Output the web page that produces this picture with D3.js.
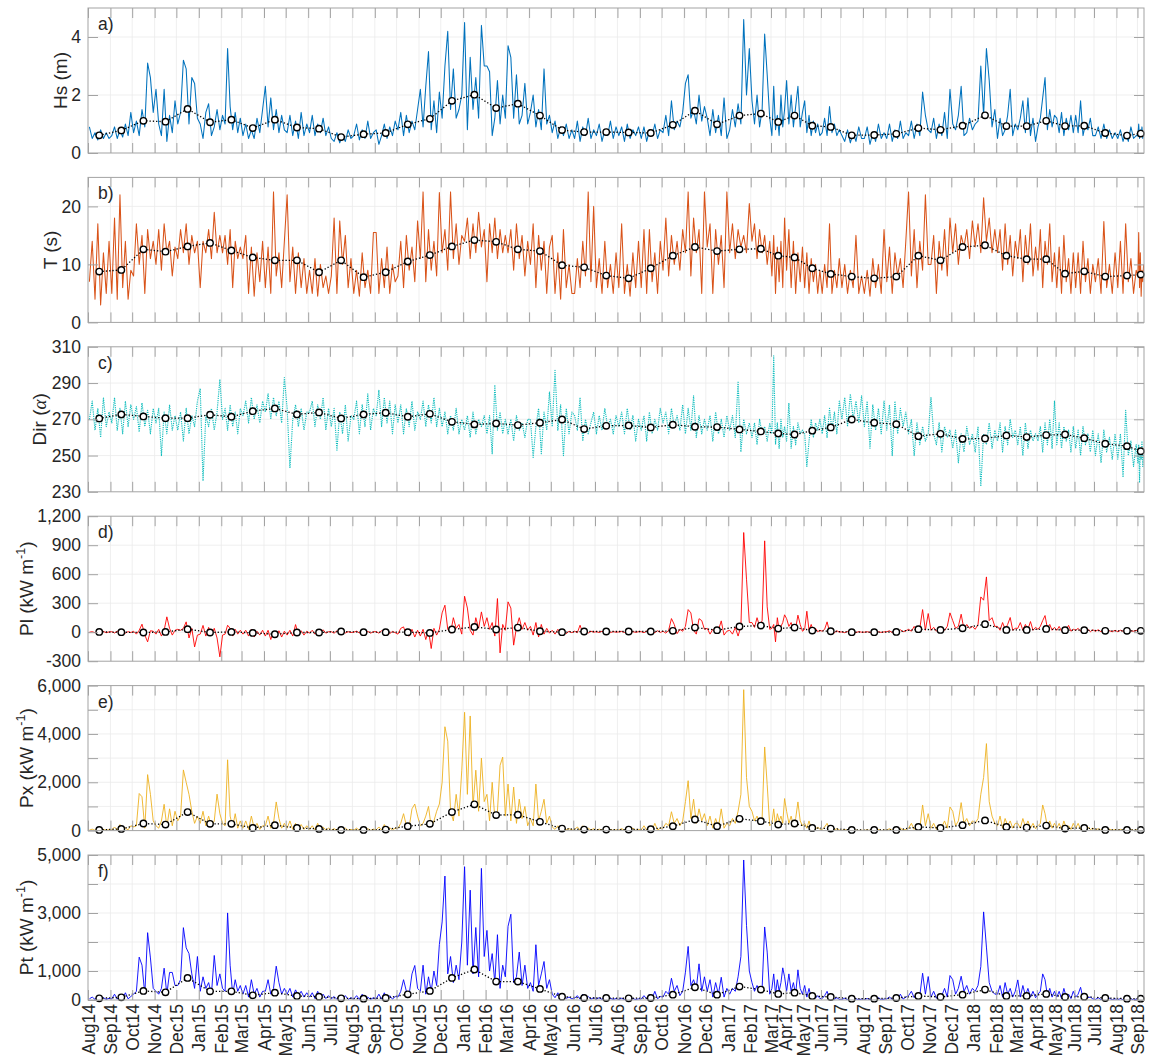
<!DOCTYPE html>
<html>
<head>
<meta charset="utf-8">
<script src="https://cdn.jsdelivr.net/npm/d3@7"></script>
<style>
  body { margin: 0; background: #fff; }
  svg text { font-family: "Liberation Sans", Arial, Helvetica, sans-serif; fill: #262626; }
</style>
</head>
<body>
<svg id="chart" width="1152" height="1057"></svg>
<script>
// ---- time axis: month labels and recorded days per month (Aug 2014 - Sep 2018) ----
const monthLabels = ["Aug14","Sep14","Oct14","Nov14","Dec15","Jan15","Feb15","Mar15","Apr15","May15","Jun15","Jul15",
  "Aug15","Sep15","Oct15","Nov15","Dec15","Jan16","Feb16","Mar16","Apr16","May16","Jun16","Jul16",
  "Aug16","Sep16","Oct16","Nov16","Dec16","Jan17","Feb17","Mar17","Apr17","May17","Jun17","Jul17",
  "Aug17","Sep17","Oct17","Nov17","Dec17","Jan18","Feb18","Mar18","Apr18","May18","Jun18","Jul18",
  "Aug18","Sep18"];
const monthDays = [31,30,31,30,31,31,28,31,30,31,30,31,
  31,30,31,30,31,31,29,31,30,31,30,31,
  31,30,31,30,31,31,28,20,25,24,27,31,
  31,30,31,30,31,31,28,28,26,26,27,31,
  29,9];

// ---- monthly means ----
const hsMean = [0.61,0.78,1.11,1.08,1.52,1.06,1.15,0.86,1.15,0.88,0.84,0.55,
  0.65,0.69,0.99,1.18,1.80,2.01,1.55,1.70,1.29,0.79,0.72,0.72,
  0.71,0.69,0.97,1.46,0.99,1.29,1.36,1.07,1.29,0.94,0.90,0.61,
  0.62,0.66,0.86,0.80,0.94,1.30,0.93,0.93,1.11,0.93,0.94,0.69,
  0.60,0.67];
const tMean = [8.76,9.05,12.6,12.2,13.1,13.7,12.4,11.2,10.7,10.7,8.65,10.7,
  7.8,8.65,10.5,11.6,13.1,14.2,13.9,12.6,12.3,9.86,9.5,8.07,
  7.6,9.34,11.5,13.0,12.3,12.6,12.7,11.5,11.2,9.34,8.36,7.9,
  7.6,7.9,11.5,10.7,13.0,13.3,11.5,10.9,10.9,8.4,8.8,7.9,
  8.07,8.24];
const dirMean = [270.5,272.7,271.6,270.6,270.6,272.5,271.4,274.5,276.0,272.7,273.8,270.5,
  272.7,273.6,271.4,273.0,268.6,267.2,267.7,266.8,268.1,269.9,264.6,266.4,
  266.6,265.5,267.0,265.9,265.7,264.4,263.3,262.2,261.6,263.7,265.5,269.9,
  268.1,267.3,260.7,262.0,259.2,259.4,261.1,260.2,261.3,261.6,259.6,256.5,
  255.2,252.4];
const plMean = [3,0,-3,3,31,-3,3,-7,-21,-3,-3,7,
  0,0,0,-7,28,55,28,48,10,0,7,7,
  7,7,14,48,21,59,69,38,48,17,10,0,
  0,3,31,24,41,83,24,24,34,21,21,14,
  14,14];
const pxMean = [28,70,293,251,767,279,279,112,223,112,70,28,
  28,42,181,279,767,1088,642,656,363,84,42,42,
  42,56,181,460,181,488,391,251,293,112,84,28,
  28,28,153,112,223,419,153,126,209,84,112,28,
  28,28];
const ptMean = [58,92,312,266,762,300,300,162,254,139,116,58,
  46,69,196,312,762,1051,635,635,381,116,69,69,
  58,69,185,439,185,462,358,208,254,139,104,46,
  46,69,139,104,185,358,139,139,208,104,116,69,
  46,46];

// ---- sub-monthly series (8 samples per month) ----
const hsSeries = [
  0.9,0.5,0.7,0.45,0.8,0.5,0.7,0.5,  0.6,0.9,0.5,0.8,0.55,1.0,0.6,1.4,
  0.7,1.1,0.6,1.5,0.9,3.1,2.6,1.4,  2.2,1.0,0.6,2.2,0.4,1.3,0.7,1.8,
  1.0,1.4,3.2,2.9,1.0,2.6,2.4,1.2,  1.0,0.5,1.4,1.7,0.6,0.9,1.5,0.8,
  1.3,1.0,3.6,1.6,0.8,1.4,0.7,1.2,  0.6,1.0,0.5,0.8,0.5,1.2,0.7,1.5,
  2.3,0.9,1.9,0.8,1.5,0.7,1.3,0.8,  0.7,1.3,0.6,1.1,0.5,1.4,0.6,1.0,
  0.7,1.3,0.6,1.0,0.7,1.2,0.6,0.9,  0.5,0.4,0.7,0.35,0.6,0.4,0.8,0.5,
  0.6,1.0,0.45,0.8,0.5,1.1,0.5,0.7,  0.8,0.3,0.6,1.0,0.5,0.9,0.6,1.1,
  0.8,1.4,0.6,1.3,0.7,1.1,0.8,1.5,  2.2,0.9,2.3,3.5,0.8,1.8,0.7,2.1,
  1.2,3.0,4.2,1.5,2.9,1.2,1.5,2.0,  4.5,0.8,3.3,1.5,2.6,1.2,4.4,3.0,
  3.0,2.8,0.6,1.2,2.5,1.0,2.0,1.2,  3.7,3.3,1.2,2.7,1.0,1.3,2.4,1.0,
  1.4,2.0,0.9,1.5,0.8,2.9,1.0,1.3,  0.7,1.1,0.5,0.9,0.6,1.0,0.5,0.8,
  0.5,1.1,0.4,0.9,0.6,1.2,0.5,0.8,  0.6,1.0,0.4,0.8,0.6,1.1,0.5,0.9,
  0.6,0.9,0.4,1.0,0.5,0.8,0.6,0.9,  0.5,0.9,0.4,0.8,0.6,1.0,0.5,0.8,
  0.7,1.3,0.6,1.8,0.8,1.1,0.9,1.4,  2.4,2.7,1.2,1.5,1.0,2.0,1.1,1.6,
  1.2,0.6,1.5,0.7,1.3,0.6,1.9,0.5,  0.8,1.5,0.9,1.7,1.0,4.6,2.0,3.6,
  1.8,1.0,2.0,0.9,1.5,4.1,2.7,1.2,  0.6,2.3,0.8,1.3,0.6,2.0,0.9,1.5,
  2.5,1.0,2.0,0.9,1.6,2.3,0.9,1.4,  1.8,0.7,1.3,0.6,1.1,0.7,1.0,0.6,
  0.7,1.2,0.6,1.6,0.7,1.0,0.6,0.8,  0.6,0.4,0.8,0.35,0.7,0.4,0.9,0.5,
  0.5,0.9,0.3,0.7,0.4,1.0,0.5,0.7,  0.5,1.0,0.4,0.8,0.5,1.1,0.5,0.7,
  0.6,1.1,0.5,1.0,0.6,2.1,1.3,0.8,  0.7,1.2,0.5,1.0,0.6,1.4,0.5,2.2,
  1.0,0.8,1.3,2.3,0.6,0.7,1.2,0.8,  1.0,1.1,3.0,1.3,3.6,2.5,0.9,1.5,
  0.5,1.2,0.6,0.8,1.3,2.2,0.6,1.0,  0.8,1.2,1.8,0.7,1.9,0.6,1.2,0.4,
  0.9,1.2,1.9,2.6,0.8,1.5,0.9,1.3,  1.2,0.7,1.4,0.6,1.2,0.8,1.3,0.7,
  1.3,0.7,1.8,0.6,1.0,0.8,1.2,0.6,  0.6,0.9,0.5,1.0,0.5,0.8,0.5,0.7,
  0.5,0.8,0.4,0.7,0.4,0.9,0.5,0.6,  0.6,1.0,0.5,0.8,0.6,0.9,0.5,0.7];

const tSeries = [
  7,14,4,17,3,12,5,14,  5,18,4,22,6,14,4,9,
  8,17,10,15,5,16,11,14,  10,16,9,17,12,14,8,13,
  11,16,12,17,10,15,12,14,  6,14,12,16,11,19,12,15,
  12,15,10,16,6,14,11,13,  11,15,5,13,4.5,12,7,14,
  6,13,5,22.5,8,12,6,14,  22,7,13,5,12,6,11,5,
  9,5,11,4.5,10,6,8,5,  8,18,5,17.5,10,15,6,11,
  5,9,4.5,12,6,9,5,15.5,  15.5,5,11,6,13,5,10,7,
  8,14,6,15,9,13,7,17.5,  11,22.5,7,16,9,14,8,22.4,
  12,16,9,22.5,11,17,10,15,  14,18,11,17,12,19,13,16,
  7,17,12,18,11,16,12,15,  12,16,9,17,11,15,8,14,
  10,17,6,15,9,14,5,13,  15,5,12,4,16,6,10,5,
  5,11,6,14,8,22.5,7,20,  6,11,5,14,6,10,5,12,
  6,17,5,10,4.5,12,6,14,  6,16,5,16,7,12,5,14,
  9,18,8,15,10,14,9,16,  12,22.5,8,18,12,16,5,22.5,
  13,17,5,16,10,15,6,22.5,  12,17,11,16,13,15,12,20.5,
  14,17,11,16,12,15,10,14,  8,15,5,13,7,14,6,18,
  9,16,6,14,5,12,7,13,  6,12,5,11,7,10,5,9,
  5,10,6,17,5,9,6,11,  6,10,5,9,6,15,5,8,
  5,9,4.5,11,6,10,5,16,  7,13,5,12,8,11,6,14,
  22.5,8,16,6,14,9,22,10,  10,15,5,14,9,16,8,18,
  12,17,10,15,13,16,11,17.5,  13,17,12,21.5,14,18,12,16,
  12,16,9,17,10,15,8,14,  11,16,7,15,10,17,8,13,
  9,16,6,14,10,17,7,12,  6,13,5,15,7,11,5,12,
  6,12,5,14,7,11,5,10,  7,11,5,17.4,6,10,5,12,
  6,14,5,17,7,11,5,9,  8,15.5,6,12,4.5,9,7,10];

const dirSeries = [
  270,280,264,276,260,282,266,274,  268,282,264,276,262,280,266,278,
  270,277,263,279,266,275,262,276,  268,276,250,274,262,278,264,272,
  264,274,258,276,262,272,266,280,  287,236,272,266,276,264,274,292,
  270,276,264,278,266,274,262,276,  272,280,268,282,270,278,268,280,
  274,284,270,282,272,280,268,293,  276,243,270,278,266,276,264,274,
  274,280,266,278,270,282,264,276,  266,276,253,274,262,278,258,272,
  270,280,262,278,266,284,264,276,  272,286,266,282,268,280,262,278,
  268,278,262,276,266,280,264,274,  270,280,266,278,268,282,266,276,
  266,274,262,272,264,276,262,270,  264,272,260,274,262,270,266,272,
  262,272,251,289,264,274,262,270,  262,270,258,272,264,268,260,270,
  270,249,266,276,251,274,264,285,  266,297,264,278,250,276,262,274,
  272,264,282,258,270,262,268,274,  262,272,264,276,266,270,262,272,
  266,274,262,276,264,272,258,270,  264,272,258,274,262,270,264,276,
  268,274,262,276,266,272,264,278,  262,276,264,283,260,272,262,270,
  264,272,258,274,262,270,260,272,  264,272,260,291,252,270,262,268,
  260,268,256,270,262,266,258,268,  262,305,256,268,254,270,260,266,
  258,279,254,266,256,268,262,264,  262,244,258,270,260,268,264,270,
  262,272,260,276,264,274,262,280,  270,282,266,284,270,280,268,283,
  266,280,254,278,264,276,262,280,  264,278,250,280,262,276,266,274,
  262,270,250,268,256,266,258,262,  282,262,256,268,252,266,260,264,
  254,264,246,262,252,266,256,262,  252,266,233,262,256,268,254,264,
  258,268,252,266,256,270,260,264,  256,266,250,268,254,264,258,262,
  258,266,252,268,256,270,254,280,  256,268,254,266,258,264,252,266,
  254,264,250,266,256,262,252,264,  250,262,246,264,252,260,248,262,
  248,262,238,275,250,258,244,256,  246,256,235,254,248,258,244,252];

const plSeries = [
  0,5,-5,10,-3,8,-5,3,  5,-8,10,-5,8,-10,6,-4,
  10,-20,20,83,-30,-100,15,10,  -20,30,-40,20,159,40,-30,20,
  30,20,40,107,-60,40,-152,-30,  -20,70,-40,50,-30,40,-60,-255,
  -30,-20,72,40,-40,30,-20,20,  -20,20,-40,30,-50,10,-30,20,
  -40,20,-76,10,-60,15,-50,10,  -30,20,-40,79,-20,15,-30,10,
  -10,20,-20,10,-15,25,-10,5,  5,-10,15,-5,10,-8,5,-3,
  0,10,-8,12,-5,8,-10,5,  5,-10,15,-8,10,-15,8,-5,
  -20,40,55,-30,-40,30,-50,20,  -40,30,-76,20,-169,40,-30,30,
  200,279,30,-10,150,40,80,-20,  372,250,20,-30,150,40,210,60,
  150,30,100,-40,348,-214,80,20,  314,250,-134,50,150,30,100,20,
  60,-30,100,-50,80,-20,40,-10,  20,-20,30,-10,15,-15,10,-5,
  10,-5,72,-10,15,-8,10,0,  5,-3,10,-5,8,-4,6,0,
  3,8,-3,10,-5,6,-2,5,  5,-5,12,-8,10,-5,15,-3,
  10,-10,20,141,80,-15,30,10,  60,234,200,20,-20,140,120,30,
  40,-20,30,-10,20,117,-30,10,  20,-20,50,-40,60,1031,548,100,
  100,50,150,60,120,945,262,30,  40,80,-100,150,20,60,100,180,
  140,60,100,20,40,176,80,10,  30,217,20,80,10,40,5,20,
  10,30,107,5,20,-5,15,0,  3,-5,8,-3,5,-4,6,0,
  0,5,-3,8,-5,4,-2,3,  5,15,-5,20,0,25,5,15,
  30,10,60,20,40,234,20,193,  20,50,10,40,30,20,60,200,
  120,40,60,186,30,80,40,60,  30,80,365,331,572,120,150,60,
  60,20,100,30,80,152,20,40,  40,100,20,80,30,110,20,50,
  30,60,120,172,40,80,20,50,  20,60,10,40,30,70,10,30,
  20,40,10,50,20,30,5,25,  10,25,5,20,10,15,5,20,
  5,20,10,25,5,15,10,20,  10,20,5,15,10,20,5,10];

const pxSeries = [
  20,60,10,80,20,50,10,40,  30,150,20,250,40,100,30,200,
  150,200,1535,1400,100,2316,1500,400,  200,100,400,1088,150,900,200,800,
  400,600,2511,2000,1500,800,300,600,  300,800,200,600,150,400,1507,700,
  300,200,2930,600,150,700,100,400,  100,400,50,600,100,300,50,200,
  200,600,100,300,1186,500,100,300,  100,400,50,300,100,250,50,200,
  50,200,30,300,50,150,20,100,  20,80,10,60,20,100,10,50,
  20,100,10,150,20,80,10,60,  30,150,20,250,30,120,20,100,
  100,300,700,200,150,900,1100,600,  200,300,600,1000,150,400,800,1100,
  2000,4297,3700,800,400,1500,600,2500,  4896,1500,4743,1000,2500,800,3000,1200,
  1500,400,2000,500,800,2700,3041,600,  1925,400,1800,300,1300,500,1000,200,
  500,200,1925,400,800,1297,300,600,  150,50,200,30,100,40,80,20,
  50,150,20,200,30,100,20,80,  20,60,10,80,20,40,10,30,
  20,80,10,60,20,100,10,50,  30,200,20,150,30,300,20,100,
  100,300,200,781,300,500,200,400,  1200,2065,500,1300,300,900,400,700,
  200,600,100,500,150,900,100,300,  200,500,300,800,1500,5831,2200,1000,
  800,400,600,300,500,3460,1897,200,  300,900,200,700,400,600,300,1325,
  800,300,600,200,500,1186,400,200,  300,100,400,80,200,60,150,50,
  50,150,300,40,100,30,80,20,  10,40,5,30,10,20,5,15,
  10,30,5,20,10,40,5,20,  20,80,10,60,30,100,20,50,
  100,300,50,200,100,1060,200,700,  100,300,50,200,150,400,100,976,
  800,200,400,1158,300,500,200,400,  300,500,1500,2200,3599,1200,600,300,
  200,600,100,500,200,400,100,300,  300,100,500,150,400,100,300,80,
  200,300,1060,700,150,400,100,300,  100,300,50,400,100,200,50,300,
  100,300,50,200,80,150,40,100,  20,80,10,100,20,60,10,40,
  10,50,5,80,10,40,5,30,  20,60,10,40,20,30,10,20];

const ptSeries = [
  40,100,20,150,40,80,20,60,  40,200,30,150,50,250,40,120,
  200,300,1478,1200,200,2322,1450,400,  300,200,400,1097,200,950,950,500,
  500,700,2495,1800,1600,900,400,1500,  300,800,400,600,200,1536,500,900,
  400,300,3003,1200,200,700,300,500,  200,500,100,700,200,400,100,300,
  300,700,200,400,1166,600,200,400,  200,400,100,350,150,300,100,250,
  100,250,50,300,80,200,50,150,  40,120,20,100,30,150,20,80,
  30,150,20,200,30,100,20,80,  40,200,30,250,50,150,30,120,
  100,300,700,300,200,900,1190,400,  300,1200,200,800,300,1000,500,1917,
  2691,4274,900,1500,600,1200,700,2000,  4597,1200,3788,900,2500,800,4539,1500,
  2400,1000,1600,600,2252,400,1200,800,  2541,2957,600,800,1652,500,1200,400,
  600,300,1906,500,900,1328,400,700,  200,80,250,50,150,60,100,40,
  60,150,30,200,40,120,30,80,  30,80,20,100,30,60,20,50,
  20,60,15,100,20,50,15,40,  40,150,30,200,50,300,40,120,
  100,300,200,750,300,500,150,300,  958,1848,500,700,400,1247,300,800,
  300,700,100,600,200,785,100,400,  200,400,300,800,1500,4828,2575,1000,
  600,300,500,300,400,2518,1652,200,  400,900,200,700,300,600,1109,800,
  300,900,300,600,200,1040,400,200,  500,100,400,80,200,60,150,50,
  50,150,300,40,100,30,80,20,  20,60,10,50,20,40,10,30,
  20,50,10,40,20,80,10,30,  40,100,20,80,30,200,30,100,
  150,300,80,200,150,924,200,809,  100,300,60,200,150,400,100,843,
  700,200,400,820,300,500,200,400,  300,500,1155,3038,1825,600,300,200,
  200,500,100,600,200,400,100,300,  693,100,500,150,400,100,300,80,
  200,300,900,700,150,400,100,300,  100,300,50,400,100,200,50,300,
  100,200,439,50,150,80,100,40,  20,80,10,100,20,60,10,40,
  10,50,5,80,10,40,5,30,  20,60,10,40,20,30,10,20];

// ---- y ticks and their labels ----
const hsTicks = [0, 2, 4];           const hsTickLabels = ["0", "2", "4"];
const tTicks = [0, 10, 20];          const tTickLabels = ["0", "10", "20"];
const dirTicks = [230, 250, 270, 290, 310];
const dirTickLabels = ["230", "250", "270", "290", "310"];
const plTicks = [-300, 0, 300, 600, 900, 1200];
const plTickLabels = ["-300", "0", "300", "600", "900", "1,200"];
const pxTicks = [0, 1000, 2000, 3000, 4000, 5000, 6000];
const pxTickLabels = ["0", "", "2,000", "", "4,000", "", "6,000"];
const ptTicks = [0, 1000, 2000, 3000, 4000, 5000];
const ptTickLabels = ["0", "1,000", "", "3,000", "", "5,000"];

// ---- layout ----
const plotLeft = 88, plotRight = 1144;
const panelTop0 = 8, panelStep = 169.4, panelH = 145;
const boxColor = "#a3a3a3", gridColor = "#ebebeb";
const SPM = 8; // samples per month

const svg = d3.select("#chart");
const monthStart = Array.from(d3.cumsum(monthDays)).map((c, i) => c - monthDays[i]);
const totalDays = d3.sum(monthDays);
const x = d3.scaleLinear().domain([0, totalDays]).range([plotLeft, plotRight]);

function seriesPoints(vals) {
  return vals.map((v, i) => {
    const m = Math.floor(i / SPM), k = i % SPM;
    return [monthStart[m] + (k + 0.5) * monthDays[m] / SPM, v];
  });
}
function meanPoints(vals) {
  return vals.map((v, m) => [monthStart[m] + monthDays[m] / 2, v]);
}

const sup = "-1";
const panels = [
  { letter: "a)", series: hsSeries, mean: hsMean, color: "#0072BD", dash: null, width: 1.05,
    domain: [0, 5], ticks: hsTicks, tickLabels: hsTickLabels, labelX: 67,
    label: [{ t: "Hs (m)" }] },
  { letter: "b)", series: tSeries, mean: tMean, color: "#D95319", dash: null, width: 1.05,
    domain: [0, 25], ticks: tTicks, tickLabels: tTickLabels, labelX: 57,
    label: [{ t: "T (s)" }] },
  { letter: "c)", series: dirSeries, mean: dirMean, color: "#14BEBE", dash: "1.2,1", width: 1.15,
    domain: [230, 310], ticks: dirTicks, tickLabels: dirTickLabels, labelX: 46,
    label: [{ t: "Dir (" }, { t: "\u03B1", italic: true }, { t: ")" }] },
  { letter: "d)", series: plSeries, mean: plMean, color: "#FF0000", dash: null, width: 0.9,
    domain: [-300, 1200], ticks: plTicks, tickLabels: plTickLabels, labelX: 33,
    label: [{ t: "Pl (kW m" }, { t: sup, sup: true }, { t: ")" }] },
  { letter: "e)", series: pxSeries, mean: pxMean, color: "#EDB120", dash: null, width: 0.9,
    domain: [0, 6000], ticks: pxTicks, tickLabels: pxTickLabels, labelX: 33,
    label: [{ t: "Px (kW m" }, { t: sup, sup: true }, { t: ")" }] },
  { letter: "f)", series: ptSeries, mean: ptMean, color: "#0000FF", dash: null, width: 0.9,
    domain: [0, 5000], ticks: ptTicks, tickLabels: ptTickLabels, labelX: 33,
    label: [{ t: "Pt (kW m" }, { t: sup, sup: true }, { t: ")" }] }
];

function styleAxis(g) {
  g.select(".domain").remove();
  g.attr("font-family", null).attr("font-size", null);
  g.selectAll(".tick line").attr("stroke", boxColor).attr("stroke-width", 1);
  g.selectAll(".tick text").attr("font-size", 17.5).attr("fill", "#262626");
}

panels.forEach((p, i) => {
  const top = panelTop0 + i * panelStep;
  const bottom = top + panelH;
  const y = d3.scaleLinear().domain(p.domain).range([bottom, top]);
  const g = svg.append("g");

  // grid
  g.append("g").selectAll("line").data(monthStart.slice(1)).join("line")
    .attr("x1", d => x(d)).attr("x2", d => x(d))
    .attr("y1", top).attr("y2", bottom)
    .attr("stroke", gridColor).attr("stroke-width", 0.8);
  g.append("g").selectAll("line").data(p.ticks.filter(t => t > p.domain[0] && t < p.domain[1])).join("line")
    .attr("x1", plotLeft).attr("x2", plotRight)
    .attr("y1", d => y(d)).attr("y2", d => y(d))
    .attr("stroke", gridColor).attr("stroke-width", 0.8);

  // clip region
  const clipId = "clip-" + i;
  svg.append("clipPath").attr("id", clipId).append("rect")
    .attr("x", plotLeft).attr("y", top).attr("width", plotRight - plotLeft).attr("height", panelH);

  const line = d3.line().x(d => x(d[0])).y(d => y(d[1]));

  // data series
  g.append("path").datum(seriesPoints(p.series))
    .attr("clip-path", `url(#${clipId})`)
    .attr("fill", "none").attr("stroke", p.color)
    .attr("stroke-width", p.width).attr("stroke-linejoin", "round")
    .attr("stroke-dasharray", p.dash)
    .attr("d", line);

  // monthly mean
  const mp = meanPoints(p.mean);
  g.append("path").datum(mp)
    .attr("fill", "none").attr("stroke", "#000")
    .attr("stroke-width", 1.3).attr("stroke-dasharray", "1.3,2")
    .attr("d", line);
  g.append("g").selectAll("circle").data(mp).join("circle")
    .attr("cx", d => x(d[0])).attr("cy", d => y(d[1])).attr("r", 3.2)
    .attr("fill", "#fff").attr("stroke", "#000").attr("stroke-width", 1.4);

  // axes (ticks inward on all four sides)
  const left = g.append("g").attr("transform", `translate(${plotLeft},0)`)
    .call(d3.axisLeft(y).tickValues(p.ticks).tickFormat((d, j) => p.tickLabels[j])
      .tickSizeInner(-10).tickSizeOuter(0).tickPadding(7));
  styleAxis(left);
  const right = g.append("g").attr("transform", `translate(${plotRight},0)`)
    .call(d3.axisRight(y).tickValues(p.ticks).tickFormat("").tickSizeInner(-10).tickSizeOuter(0));
  styleAxis(right);
  const topAx = g.append("g").attr("transform", `translate(0,${top})`)
    .call(d3.axisTop(x).tickValues(monthStart).tickFormat("").tickSizeInner(-10).tickSizeOuter(0));
  styleAxis(topAx);
  const isLast = i === panels.length - 1;
  const bottomAx = g.append("g").attr("transform", `translate(0,${bottom})`)
    .call(d3.axisBottom(x).tickValues(monthStart)
      .tickFormat((d, j) => isLast ? monthLabels[j] : "")
      .tickSizeInner(-10).tickSizeOuter(0));
  styleAxis(bottomAx);
  if (isLast) {
    bottomAx.selectAll(".tick text")
      .attr("transform", "rotate(-90)")
      .attr("x", -4).attr("y", 0).attr("dy", "0.35em")
      .attr("text-anchor", "end");
  }

  // box
  g.append("rect").attr("x", plotLeft).attr("y", top)
    .attr("width", plotRight - plotLeft).attr("height", panelH)
    .attr("fill", "none").attr("stroke", boxColor).attr("stroke-width", 1);

  // panel letter
  g.append("text").attr("x", 98).attr("y", top + 22).attr("font-size", 17.5).text(p.letter);

  // y label
  const lab = g.append("text")
    .attr("transform", `translate(${p.labelX},${(top + bottom) / 2}) rotate(-90)`)
    .attr("text-anchor", "middle").attr("font-size", 19);
  let shifted = false;
  p.label.forEach(part => {
    const ts = lab.append("tspan").text(part.t);
    if (part.italic) ts.attr("font-family", "'Liberation Serif', 'DejaVu Serif', serif").attr("font-style", "italic");
    if (part.sup) { ts.attr("font-size", 12.5).attr("dy", -8); shifted = true; }
    else if (shifted) { ts.attr("dy", 8); shifted = false; }
  });
});
</script>
</body>
</html>
